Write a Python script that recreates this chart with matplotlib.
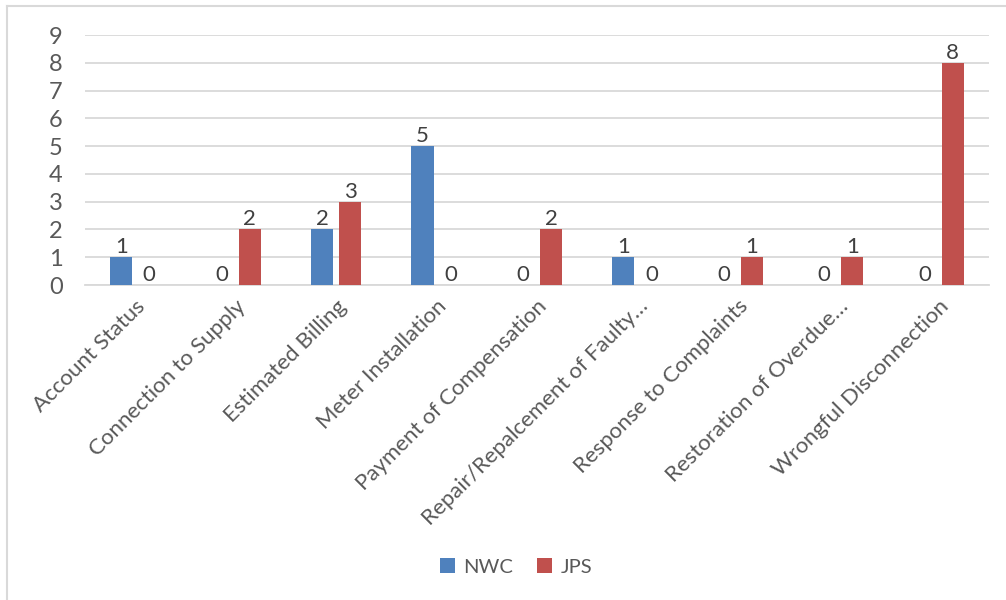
import matplotlib
matplotlib.use("Agg")
import matplotlib.pyplot as plt
from matplotlib.lines import Line2D
import numpy as np

categories = [
    "Account Status",
    "Connection to Supply",
    "Estimated Billing",
    "Meter Installation",
    "Payment of Compensation",
    "Repair/Repalcement of Faulty\u2026",
    "Response to Complaints",
    "Restoration of Overdue\u2026",
    "Wrongful Disconnection",
]
nwc = [1, 0, 2, 5, 0, 1, 0, 0, 0]
jps = [0, 2, 3, 0, 2, 0, 1, 1, 8]
series_names = ["NWC", "JPS"]

blue = "#4F81BD"
red = "#C0504D"
grid_col = "#D9D9D9"
text_col = "#595959"
label_col = "#404040"

plt.rcParams["font.family"] = ["Lato", "DejaVu Sans"]

fig = plt.figure(figsize=(10.06, 6.0), dpi=100)
ax = fig.add_axes([85 / 1006, 1 - 285 / 600, (989 - 85) / 1006, 250 / 600])

x = np.arange(len(categories))
w = 0.22
off = 0.14
b1 = ax.bar(x - off, nwc, w, color=blue, label=series_names[0], zorder=3)
b2 = ax.bar(x + off, jps, w, color=red, label=series_names[1], zorder=3)

for bars in (b1, b2):
    ax.bar_label(bars, padding=0, fontsize=16, color=label_col)

ax.set_xlim(-0.5, len(categories) - 0.5)
ax.set_ylim(0, 9)
ax.set_yticks(range(10))
ax.yaxis.grid(True, color=grid_col, linewidth=1.3, zorder=0)
ax.set_axisbelow(True)
for s in ["top", "right", "left"]:
    ax.spines[s].set_visible(False)
ax.spines["bottom"].set_color(grid_col)
ax.spines["bottom"].set_linewidth(1.3)
ax.tick_params(axis="y", length=0, pad=16, labelsize=17, labelcolor=text_col)
ax.tick_params(axis="x", length=0, pad=8, labelsize=16, labelcolor=text_col)
ax.set_xticks(x)
ax.set_xticklabels(categories, rotation=45, ha="right", rotation_mode="anchor")

ax.legend(loc="center", bbox_to_anchor=(516 / 1006, 1 - 567 / 600),
          bbox_transform=fig.transFigure, ncol=2, frameon=False,
          fontsize=14.5, labelcolor=text_col, handlelength=0.75, handleheight=0.75,
          handletextpad=0.4, columnspacing=1.2)

# chart border (left and top edges)
fig.add_artist(Line2D([7 / 1006, 7 / 1006], [0, 1 - 6 / 600],
                      transform=fig.transFigure, color=grid_col, linewidth=1.5))
fig.add_artist(Line2D([7 / 1006, 1], [1 - 6 / 600, 1 - 6 / 600],
                      transform=fig.transFigure, color=grid_col, linewidth=1.5))

fig.savefig("out.png", dpi=100)
